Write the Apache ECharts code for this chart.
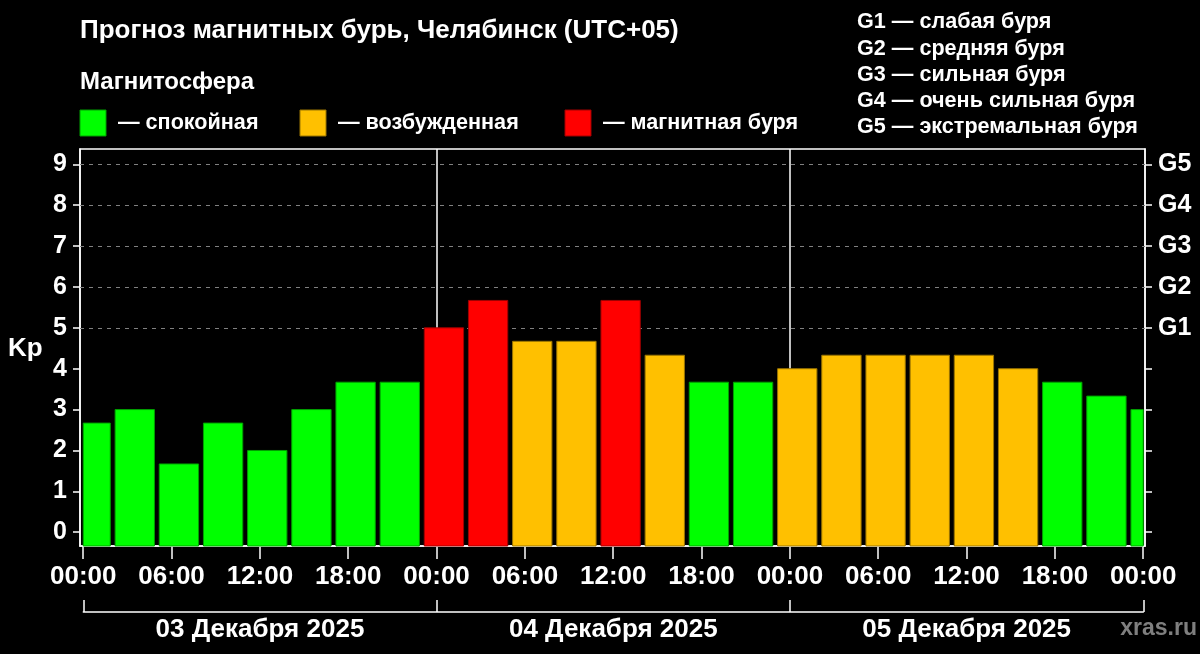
<!DOCTYPE html>
<html><head><meta charset="utf-8">
<script src="https://cdn.jsdelivr.net/npm/echarts@6/dist/echarts.min.js"></script>
<style>html,body{margin:0;padding:0;background:#000}#c{width:1200px;height:654px}</style>
</head><body><div id="c"></div>
<script>
// ---- data ----
const barHours = [0.5, 3.5, 6.5, 9.5, 12.5, 15.5, 18.5, 21.5,
                  24.5, 27.5, 30.5, 33.5, 36.5, 39.5, 42.5, 45.5,
                  48.5, 51.5, 54.5, 57.5, 60.5, 63.5, 66.5, 69.5, 72.5];
const kpValues = [2.67, 3, 1.67, 2.67, 2, 3, 3.67, 3.67,
                  5, 5.67, 4.67, 4.67, 5.67, 4.33, 3.67, 3.67,
                  4, 4.33, 4.33, 4.33, 4.33, 4, 3.67, 3.33, 3];
const timeLabels = ['00:00', '06:00', '12:00', '18:00'];
const majorTicks = [0, 6, 12, 18, 24, 30, 36, 42, 48, 54, 60, 66, 72];
const minorTicks = [3, 9, 15, 21, 27, 33, 39, 45, 51, 57, 63, 69];
const dayBounds = [0, 24, 48, 72];
const dayCenters = [12, 36, 60];
const dayLabels = ['03 Декабря 2025', '04 Декабря 2025', '05 Декабря 2025'];
const kpTicks = [0, 1, 2, 3, 4, 5, 6, 7, 8, 9];
const gLevels = [5, 6, 7, 8, 9];
const gLabels = ['G1', 'G2', 'G3', 'G4', 'G5'];
const gLegend = ['G1 — слабая буря', 'G2 — средняя буря', 'G3 — сильная буря',
                 'G4 — очень сильная буря', 'G5 — экстремальная буря'];
const stateNames = ['— спокойная', '— возбужденная', '— магнитная буря'];
const stateColors = ['#00ff00', '#ffc000', '#ff0000'];
const stateBorders = ['#00a000', '#9a7400', '#a00000'];

// ---- layout constants ----
const X_MIN = -0.22, X_MAX = 72.12;
const Y_MIN = -0.337, Y_MAX = 9.375;
const BAR_W = 2.67; // hours
const FONT = '"Liberation Sans", Arial, sans-serif';

function stateOf(v) { return v >= 5 ? 2 : (v >= 4 ? 1 : 0); }

const chart = echarts.init(document.getElementById('c'));

const graphics = [];
graphics.push({type:'text', x:80, y:31, silent:true, style:{text:'Прогноз магнитных бурь, Челябинск (UTC+05)', font:'bold 26px ' + FONT, fill:'#fff', verticalAlign:'middle'}});
graphics.push({type:'text', x:80, y:82, silent:true, style:{text:'Магнитосфера', font:'bold 24px ' + FONT, fill:'#fff', verticalAlign:'middle'}});
const legX = [80, 300, 565];
stateNames.forEach((n, i) => {
  graphics.push({type:'rect', silent:true, shape:{x:legX[i], y:110, width:26, height:26}, style:{fill:stateColors[i], stroke:stateBorders[i], lineWidth:1}});
  graphics.push({type:'text', x:legX[i] + 38, y:123, silent:true, style:{text:n, font:'bold 21.6px ' + FONT, fill:'#fff', verticalAlign:'middle'}});
});
const gy = [22.5, 48.8, 75, 101.3, 127.5];
gLegend.forEach((t, i) => {
  graphics.push({type:'text', x:857, y:gy[i], silent:true, style:{text:t, font:'bold 21.6px ' + FONT, fill:'#fff', verticalAlign:'middle'}});
});
graphics.push({type:'text', x:8, y:349, silent:true, style:{text:'Kp', font:'bold 26px ' + FONT, fill:'#fff', verticalAlign:'middle'}});
graphics.push({type:'text', x:1197, y:629, silent:true, style:{text:'xras.ru', font:'bold 23px ' + FONT, fill:'#7f7f7f', verticalAlign:'middle', align:'right'}});

const markData = gLevels.map(l => ({yAxis: l, lineStyle:{type:[4,5], color:'#808080', width:1}}))
  .concat([24, 48].map(h => ({xAxis: h, lineStyle:{type:'solid', color:'#ffffff', width:1.5}})));

const option = {
  backgroundColor: '#000',
  animation: false,
  graphic: graphics,
  grid: [
    {left:80, right:55, top:149, bottom:108, show:true, borderColor:'#fff', borderWidth:1.5, backgroundColor:'transparent'},
    {left:80, right:55, top:149, bottom:108, show:false},
    {left:83.3, right:56.7, top:560, bottom:42, show:false}
  ],
  xAxis: [
    {gridIndex:0, type:'value', min:X_MIN, max:X_MAX,
     axisLine:{show:true, onZero:false, lineStyle:{color:'#fff', width:1.5}},
     axisTick:{show:true, customValues:majorTicks, length:13, lineStyle:{color:'#fff', width:1.5}},
     axisLabel:{show:true, customValues:majorTicks, margin:18, color:'#fff', fontSize:26, fontWeight:'bold', fontFamily:FONT,
       formatter: v => timeLabels[Math.round(v / 6) % 4]},
     splitLine:{show:false}},
    {gridIndex:1, type:'value', min:X_MIN, max:X_MAX,
     axisLine:{show:false},
     axisTick:{show:true, customValues:minorTicks, length:6, lineStyle:{color:'#fff', width:1.5}},
     axisLabel:{show:false}, splitLine:{show:false}},
    {gridIndex:2, type:'value', min:0, max:72,
     axisLine:{show:true, onZero:false, lineStyle:{color:'#fff', width:1.5}},
     axisTick:{show:true, inside:true, customValues:dayBounds, length:12, lineStyle:{color:'#fff', width:1.5}},
     axisLabel:{show:true, customValues:dayCenters, margin:5, color:'#fff', fontSize:26, fontWeight:'bold', fontFamily:FONT,
       formatter: v => dayLabels[Math.round((v - 12) / 24)]},
     splitLine:{show:false}}
  ],
  yAxis: [
    {gridIndex:0, type:'value', min:Y_MIN, max:Y_MAX, position:'left',
     axisLine:{show:true, onZero:false, lineStyle:{color:'#fff', width:1.5}},
     axisTick:{show:true, customValues:kpTicks, length:7, lineStyle:{color:'#fff', width:1.5}},
     axisLabel:{show:true, customValues:kpTicks, margin:13, color:'#fff', fontSize:25, fontWeight:'bold', fontFamily:FONT,
       formatter: v => String(Math.round(v))},
     splitLine:{show:false}},
    {gridIndex:0, type:'value', min:Y_MIN, max:Y_MAX, position:'right',
     axisLine:{show:true, onZero:false, lineStyle:{color:'#fff', width:1.5}},
     axisTick:{show:true, customValues:kpTicks, length:7, lineStyle:{color:'#fff', width:1.5}},
     axisLabel:{show:true, customValues:gLevels, margin:13, color:'#fff', fontSize:25, fontWeight:'bold', fontFamily:FONT,
       formatter: v => gLabels[Math.round(v) - 5]},
     splitLine:{show:false}},
    {gridIndex:1, type:'value', min:Y_MIN, max:Y_MAX, show:false},
    {gridIndex:2, type:'value', min:0, max:1, show:false}
  ],
  series: [
    {type:'custom', xAxisIndex:0, yAxisIndex:0, z:10,
     data: barHours.map((h, i) => [h, kpValues[i]]),
     renderItem: function (params, api) {
       const x = api.value(0), v = api.value(1);
       const s = stateOf(v);
       const p0 = api.coord([x - BAR_W / 2, Y_MIN]);
       const p1 = api.coord([x + BAR_W / 2, v]);
       const c0 = api.coord([0, Y_MIN]);
       const c1 = api.coord([72, Y_MAX]);
       const rect = echarts.graphic.clipRectByRect(
         {x:p0[0], y:p1[1], width:p1[0] - p0[0], height:p0[1] - p1[1]},
         {x:c0[0], y:c1[1], width:c1[0] - c0[0], height:c0[1] - c1[1]});
       if (!rect) return;
       return {type:'rect', shape:rect, style:{fill:stateColors[s], stroke:stateBorders[s], lineWidth:1}};
     },
     markLine: {silent:true, symbol:['none','none'], z:1, label:{show:false}, data:markData}
    }
  ]
};
chart.setOption(option);
</script>
</body></html>
